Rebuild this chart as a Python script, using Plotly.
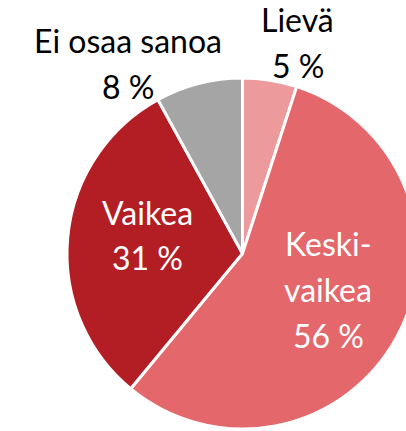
import plotly.graph_objects as go

# ---- data ----
categories = ["Lievä", "Keski-vaikea", "Vaikea", "Ei osaa sanoa"]
values = [5, 56, 31, 8]
label_lines = [["Lievä"], ["Keski-", "vaikea"], ["Vaikea"], ["Ei osaa sanoa"]]

# ---- style ----
colors = ["#EC9A9C", "#E3676B", "#B31E25", "#A5A5A5"]
text_colors = ["black", "white", "white", "black"]
W, H = 430, 440
CX, CY, R = 242.5, 253.5, 175.5
FONT = "Lato"
FS = 32
# per-category label placement: (centre x, first baseline y, line step) in pixels
label_pos = [(297.5, 32, 45.5), (328, 256, 46), (147, 225, 44.5), (127.5, 52.5, 46)]


def px(x):
    return x / W


def py(y):
    return 1 - y / H


fig = go.Figure(
    go.Pie(
        labels=categories,
        values=values,
        sort=False,
        direction="clockwise",
        rotation=0,
        marker=dict(colors=colors, line=dict(color="white", width=3)),
        textinfo="none",
        hoverinfo="label+percent",
        showlegend=False,
        domain=dict(x=[px(CX - R), px(CX + R)], y=[py(CY + R), py(CY - R)]),
    )
)

annotations = []
for lines, v, col, (x, b0, step) in zip(label_lines, values, text_colors, label_pos):
    all_lines = lines + [f"{v} %"]
    for i, t in enumerate(all_lines):
        b = b0 + i * step
        annotations.append(
            dict(
                x=px(x), y=py(b - 0.387 * FS), xref="paper", yref="paper",
                text=t, showarrow=False, xanchor="center", yanchor="middle",
                font=dict(family=FONT, size=FS, color=col),
            )
        )

fig.update_layout(
    width=W, height=H,
    margin=dict(l=0, r=0, t=0, b=0),
    paper_bgcolor="white", plot_bgcolor="white",
    annotations=annotations,
)

fig.write_html(
    "out.html",
    config={"displayModeBar": False},
    post_script="document.documentElement.style.overflow='hidden';"
                "document.body.style.overflow='hidden';"
                "document.body.style.margin='0';",
)
